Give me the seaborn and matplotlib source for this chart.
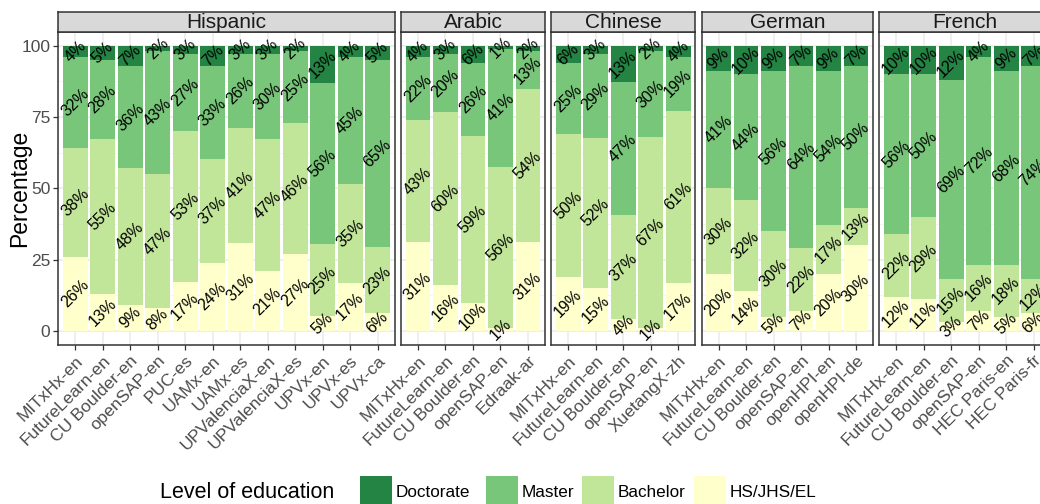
import numpy as np
import pandas as pd
import matplotlib
matplotlib.use("Agg")
import matplotlib.pyplot as plt
import seaborn as sns
from matplotlib.patches import Rectangle

# ---------------- data ----------------
groups = ["Hispanic", "Arabic", "Chinese", "German", "French"]
levels = ["Doctorate", "Master", "Bachelor", "HS/JHS/EL"]

courses_hispanic = ["MITxHx-en", "FutureLearn-en", "CU Boulder-en", "openSAP-en", "PUC-es",
                    "UAMx-en", "UAMx-es", "UPValenciaX-en", "UPValenciaX-es", "UPVx-en",
                    "UPVx-es", "UPVx-ca"]
hs_hispanic = [26, 13, 9, 8, 17, 24, 31, 21, 27, 5, 17, 6]
bach_hispanic = [38, 55, 48, 47, 53, 37, 41, 47, 46, 25, 35, 23]
master_hispanic = [32, 28, 36, 43, 27, 33, 26, 30, 25, 56, 45, 65]
doc_hispanic = [4, 5, 7, 2, 3, 7, 3, 3, 2, 13, 4, 5]

courses_arabic = ["MITxHx-en", "FutureLearn-en", "CU Boulder-en", "openSAP-en", "Edraak-ar"]
hs_arabic = [31, 16, 10, 1, 31]
bach_arabic = [43, 60, 59, 56, 54]
master_arabic = [22, 20, 26, 41, 13]
doc_arabic = [4, 3, 6, 1, 2]

courses_chinese = ["MITxHx-en", "FutureLearn-en", "CU Boulder-en", "openSAP-en", "XuetangX-zh"]
hs_chinese = [19, 15, 4, 1, 17]
bach_chinese = [50, 52, 37, 67, 61]
master_chinese = [25, 29, 47, 30, 19]
doc_chinese = [6, 3, 13, 2, 4]

courses_german = ["MITxHx-en", "FutureLearn-en", "CU Boulder-en", "openSAP-en", "openHPI-en", "openHPI-de"]
hs_german = [20, 14, 5, 7, 20, 30]
bach_german = [30, 32, 30, 22, 17, 13]
master_german = [41, 44, 56, 64, 54, 50]
doc_german = [9, 10, 9, 7, 9, 7]

courses_french = ["MITxHx-en", "FutureLearn-en", "CU Boulder-en", "openSAP-en", "HEC Paris-en", "HEC Paris-fr"]
hs_french = [12, 11, 3, 7, 5, 6]
bach_french = [22, 29, 15, 16, 18, 12]
master_french = [56, 50, 69, 72, 68, 74]
doc_french = [10, 10, 12, 4, 9, 7]

y_ticks = [0, 25, 50, 75, 100]

panel_data = [
    (courses_hispanic, hs_hispanic, bach_hispanic, master_hispanic, doc_hispanic),
    (courses_arabic, hs_arabic, bach_arabic, master_arabic, doc_arabic),
    (courses_chinese, hs_chinese, bach_chinese, master_chinese, doc_chinese),
    (courses_german, hs_german, bach_german, master_german, doc_german),
    (courses_french, hs_french, bach_french, master_french, doc_french),
]

# ---------------- style ----------------
colors = {"Doctorate": "#238443", "Master": "#78C679", "Bachelor": "#C2E699", "HS/JHS/EL": "#FFFFCC"}

sns.set_theme(style="white")
plt.rcParams["font.family"] = ["Liberation Sans", "DejaVu Sans"]

W, H = 1040, 504
fig = plt.figure(figsize=(W / 100, H / 100), dpi=100)

unit = 27.48
gap = 6.3
x_start = 58.3
panel_top_px = 31.5
panel_bot_px = 345.0
strip_top_px = 11.7

def fx(px):
    return px / W

def fy(py):
    return 1 - py / H

left = x_start
for gi, (grp, (courses, hs, bach, master, doc)) in enumerate(zip(groups, panel_data)):
    n = len(courses)
    width_px = (n - 1 + 1.24) * unit
    ax = fig.add_axes([fx(left), fy(panel_bot_px), fx(width_px), (panel_bot_px - panel_top_px) / H])
    sax = fig.add_axes([fx(left), fy(panel_top_px), fx(width_px), (panel_top_px - strip_top_px) / H])
    left += width_px + gap

    df = pd.DataFrame({"course": courses, "HS/JHS/EL": hs, "Bachelor": bach,
                       "Master": master, "Doctorate": doc})
    stack_order = ["HS/JHS/EL", "Bachelor", "Master", "Doctorate"]
    total = df[stack_order].sum(axis=1)
    shares = df[stack_order].div(total, axis=0) * 100
    cum = shares.cumsum(axis=1)

    # draw tallest first (overplot trick for stacking)
    for lvl in reversed(stack_order):
        sns.barplot(x=df["course"], y=cum[lvl], order=courses, color=colors[lvl],
                    width=0.9, saturation=1, errorbar=None, linewidth=0, ax=ax, zorder=2)

    # labels
    for lvl in stack_order:
        centers = cum[lvl] - shares[lvl] / 2
        for i in range(n):
            ax.text(i, centers[i], f"{df[lvl][i]:.0f}%", rotation=45, ha="center", va="center",
                    rotation_mode="anchor", fontsize=11.5, color="black", zorder=3)

    ax.set_xlim(-0.62, n - 1 + 0.62)
    ax.set_ylim(-5, 105)
    ax.set_xlabel("")
    ax.set_ylabel("")
    ax.set_facecolor("white")
    ax.set_axisbelow(True)
    ax.set_yticks(y_ticks)
    ax.set_yticks([12.5, 37.5, 62.5, 87.5], minor=True)
    ax.grid(True, which="major", color="#EBEBEB", linewidth=1.1, zorder=0)
    ax.grid(True, which="minor", axis="y", color="#F2F2F2", linewidth=0.6, zorder=0)
    for sp in ax.spines.values():
        sp.set_color("#333333")
        sp.set_linewidth(1.1)
    ax.set_xticks(range(n))
    ax.set_xticklabels(courses, rotation=45, ha="right", va="top", rotation_mode="anchor",
                       fontsize=12.5, color="#4D4D4D")
    ax.tick_params(axis="x", which="major", length=3.7, width=0.9, color="#333333", pad=2,
                   bottom=True)
    ax.tick_params(axis="y", which="minor", length=0)
    if gi == 0:
        ax.set_yticklabels([str(t) for t in y_ticks], fontsize=12.5, color="#4D4D4D")
        ax.tick_params(axis="y", which="major", length=3.7, width=0.9, color="#333333", pad=2,
                       left=True)
    else:
        ax.set_yticklabels([])
        ax.tick_params(axis="y", which="major", length=0, left=False)

    # strip
    sax.set_facecolor("#D9D9D9")
    sax.set_xticks([])
    sax.set_yticks([])
    for sp in sax.spines.values():
        sp.set_color("#333333")
        sp.set_linewidth(1.1)
    sax.text(0.5, 0.45, grp, transform=sax.transAxes, ha="center", va="center",
             fontsize=15, color="#1A1A1A")

# y label
fig.text(fx(20), fy((panel_top_px + panel_bot_px) / 2), "Percentage", rotation=90,
         ha="center", va="center", fontsize=16.5, color="black")

# legend (bottom)
legend_y = 492.5
fig.text(fx(160), fy(legend_y), "Level of education", ha="left", va="center",
         fontsize=15.5, color="black")
key_x = [360, 486, 582, 694]
key_w, key_h = 32, 33
for lvl, kx in zip(levels, key_x):
    fig.add_artist(Rectangle((fx(kx), fy(legend_y + key_h / 2)), key_w / W, key_h / H,
                             transform=fig.transFigure, facecolor=colors[lvl], edgecolor="none"))
    fig.text(fx(kx + key_w + 4), fy(legend_y), lvl, ha="left", va="center",
             fontsize=12.3, color="black")

fig.savefig("out.png", dpi=100)
